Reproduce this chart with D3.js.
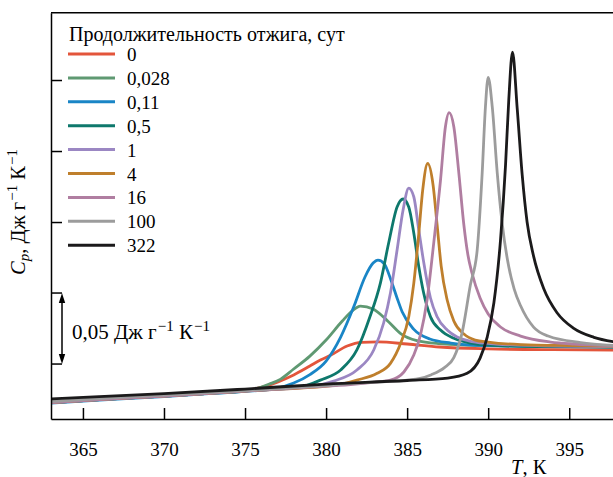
<!DOCTYPE html>
<html><head><meta charset="utf-8">
<script src="https://cdn.jsdelivr.net/npm/d3@7"></script>
<style>body{margin:0;background:#fff;}</style></head>
<body><svg id="c" width="613" height="477" font-family="Liberation Serif"></svg>
<script>
// ---- data (T in K, Cp offset in J g^-1 K^-1) ----
const durations = ["0", "0,028", "0,11", "0,5", "1", "4", "16", "100", "322"];
const legendTitle = "Продолжительность отжига, сут";
const xTicks = [365, 370, 375, 380, 385, 390, 395];
const yTicks = [0.1, 0.15, 0.2];
const scaleBar = [0, 0.05];

const T_0 = [363, 366, 370, 373, 375, 376, 377, 378, 379, 379.65, 380.3, 381.3, 382.2, 383.2, 385, 387, 390, 394, 397.7];
const Cp_0 = [-0.0271, -0.0250, -0.0225, -0.0204, -0.0188, -0.0165, -0.0127, -0.0077, -0.0014, 0.0028, 0.0063, 0.0127, 0.0153, 0.0156, 0.0141, 0.0120, 0.0107, 0.0101, 0.0099];

const T_028 = [363, 366, 370, 373, 375, 375.5, 376.5, 377.2, 378, 379, 380, 381, 381.6, 382.12, 382.9, 383.8, 384.6, 385.6, 387, 390, 397.7];
const Cp_028 = [-0.0271, -0.0250, -0.0225, -0.0204, -0.0190, -0.0180, -0.0141, -0.0106, -0.0035, 0.0056, 0.0169, 0.0303, 0.0373, 0.0408, 0.0387, 0.0303, 0.0215, 0.0165, 0.0144, 0.0130, 0.0123];

const T_011 = [363, 366, 370, 373, 375, 377, 378, 379, 380, 380.9, 381.7, 382.4, 382.9, 383.2, 383.6, 384.0, 384.4, 384.7, 385.4, 386.4, 387.7, 390, 397.7];
const Cp_011 = [-0.0276, -0.0254, -0.0229, -0.0207, -0.0193, -0.0169, -0.0134, -0.0074, 0.0021, 0.0190, 0.0401, 0.0613, 0.0711, 0.0732, 0.0704, 0.0592, 0.0458, 0.0366, 0.0246, 0.0176, 0.0148, 0.0130, 0.0120];

const T_05 = [363, 366, 370, 373, 376, 378.5, 379.65, 380.9, 381.9, 382.7, 383.35, 383.86, 384.38, 384.75, 385.1, 385.41, 385.72, 386.02, 386.44, 387.06, 387.88, 388.9, 390, 393, 397.7];
const Cp_05 = [-0.0271, -0.0250, -0.0225, -0.0204, -0.0183, -0.0160, -0.0113, -0.0042, 0.0099, 0.0331, 0.0570, 0.0852, 0.1106, 0.1162, 0.1106, 0.0923, 0.0685, 0.0500, 0.0333, 0.0239, 0.0181, 0.0148, 0.0134, 0.0123, 0.0120];

const T_1 = [363, 366, 370, 373, 376, 379, 380.47, 381.9, 382.94, 383.55, 383.97, 384.38, 384.75, 385.1, 385.41, 385.72, 386.02, 386.44, 386.85, 387.47, 388.09, 389, 390.5, 393, 397.7];
const Cp_1 = [-0.0271, -0.0250, -0.0225, -0.0204, -0.0183, -0.0160, -0.0120, -0.0042, 0.0099, 0.0289, 0.0500, 0.0803, 0.1085, 0.1239, 0.1178, 0.0944, 0.0718, 0.0465, 0.0333, 0.0239, 0.0190, 0.0158, 0.0141, 0.0130, 0.0123];

const T_4 = [363, 366, 370, 373, 376, 380.5, 381.9, 383.15, 383.97, 384.6, 385.1, 385.41, 385.72, 385.96, 386.27, 386.6, 386.85, 387.1, 387.47, 387.88, 388.5, 389.2, 390, 392, 395, 397.7];
const Cp_4 = [-0.0271, -0.0250, -0.0225, -0.0204, -0.0183, -0.0150, -0.0113, -0.0065, 0.0005, 0.0146, 0.0333, 0.0568, 0.0920, 0.1225, 0.1412, 0.1261, 0.0979, 0.0690, 0.0451, 0.0303, 0.0211, 0.0169, 0.0155, 0.0137, 0.0130, 0.0127];

const T_16 = [363, 366, 370, 373, 376, 379, 381.5, 383, 383.97, 384.8, 385.41, 385.82, 386.23, 386.64, 387.06, 387.36, 387.59, 387.88, 388.19, 388.5, 388.75, 389.0, 389.5, 390.0, 390.76, 392.0, 393.85, 395.3, 397.7];
const Cp_16 = [-0.0271, -0.0250, -0.0225, -0.0204, -0.0183, -0.0162, -0.0144, -0.0127, -0.0113, -0.0056, 0.0063, 0.0204, 0.0451, 0.0852, 0.1296, 0.1669, 0.1770, 0.1671, 0.1345, 0.0979, 0.0768, 0.0641, 0.0465, 0.0352, 0.0261, 0.0197, 0.0155, 0.0141, 0.0130];

const T_100 = [363, 366, 370, 375, 380, 383, 385, 385.8, 386.5, 387.3, 387.88, 388.4, 388.9, 389.32, 389.63, 389.83, 390.0, 390.25, 390.56, 390.86, 391.27, 391.6, 392.0, 392.8, 393.7, 395.7, 397.7];
const Cp_100 = [-0.0264, -0.0243, -0.0218, -0.0187, -0.0151, -0.0127, -0.0113, -0.0101, -0.0075, -0.0025, 0.0045, 0.0225, 0.0556, 0.0800, 0.1345, 0.1810, 0.2019, 0.1812, 0.1345, 0.0993, 0.0685, 0.0530, 0.0410, 0.0260, 0.0197, 0.0151, 0.0131];

const T_322 = [363, 366, 370, 375, 380, 385, 387.5, 388.7, 389.5, 389.94, 390.35, 390.76, 391.07, 391.27, 391.5, 391.79, 392.1, 392.4, 392.8, 393.43, 394.26, 395.28, 396.52, 397.7];
const Cp_322 = [-0.0246, -0.0229, -0.0208, -0.0176, -0.0141, -0.0116, -0.0099, -0.0065, 0.0042, 0.0190, 0.0430, 0.0873, 0.1401, 0.1859, 0.2197, 0.1800, 0.1330, 0.1000, 0.0760, 0.0530, 0.0359, 0.0251, 0.0188, 0.0157];

const seriesT = [T_0, T_028, T_011, T_05, T_1, T_4, T_16, T_100, T_322];
const seriesCp = [Cp_0, Cp_028, Cp_011, Cp_05, Cp_1, Cp_4, Cp_16, Cp_100, Cp_322];

// ---- styles ----
const colors = ["#e3553b", "#5f9972", "#1985c6", "#0e786c", "#9b87c3", "#bf7f2c", "#b07ea1", "#9c9c9c", "#1b1a1b"];
const FONT = "Liberation Serif";

const svg = d3.select("#c");
const L = 51, R = 613, TOP = 12.7, BOT = 419;
const x = d3.scaleLinear().domain([363.03, 397.7]).range([L, R]);
const y = d3.scaleLinear().domain([-0.0387, 0.2474]).range([BOT, TOP]);

svg.append("defs").append("clipPath").attr("id", "clip")
  .append("rect").attr("x", L).attr("y", TOP).attr("width", R - L).attr("height", BOT - TOP);

// curves
const line = d3.line().x(d => x(d[0])).y(d => y(d[1])).curve(d3.curveMonotoneX);
const g = svg.append("g").attr("clip-path", "url(#clip)");
seriesT.forEach((T, i) => {
  const pts = T.map((t, k) => [t, seriesCp[i][k]]);
  g.append("path").attr("d", line(pts)).attr("fill", "none")
    .attr("stroke", colors[i]).attr("stroke-width", 2.8)
    .attr("stroke-linejoin", "round").attr("stroke-linecap", "round");
});

// axes
const xAxis = d3.axisBottom(x).tickValues(xTicks).tickSize(-11).tickSizeOuter(0).tickPadding(24).tickFormat(d3.format("d"));
const gx = svg.append("g").attr("transform", `translate(0,${BOT})`).call(xAxis);
gx.attr("font-family", FONT).attr("font-size", 19);
gx.selectAll("path,line").attr("stroke", "#000").attr("stroke-width", 1.5);
gx.selectAll("text").attr("font-family", FONT).attr("font-size", 19).attr("fill", "#000");

const yAxis = d3.axisLeft(y).tickValues(yTicks).tickSize(-11).tickSizeOuter(0).tickFormat("");
const gy = svg.append("g").attr("transform", `translate(${L},0)`).call(yAxis);
gy.selectAll("path,line").attr("stroke", "#000").attr("stroke-width", 1.5);

// top frame line
svg.append("line").attr("x1", L).attr("x2", R).attr("y1", TOP).attr("y2", TOP)
  .attr("stroke", "#000").attr("stroke-width", 1.5);

// axis titles
const xt = svg.append("text").attr("x", 511).attr("y", 474).attr("font-size", 20.5).attr("font-family", FONT);
xt.append("tspan").attr("font-style", "italic").text("T");
xt.append("tspan").text(", К");

const yt = svg.append("text").attr("transform", "translate(25,212) rotate(-90)")
  .attr("text-anchor", "middle").attr("font-size", 20.5).attr("font-family", FONT);
yt.append("tspan").attr("font-style", "italic").text("C");
yt.append("tspan").attr("font-style", "italic").attr("font-size", 15).attr("dy", 4).text("p");
yt.append("tspan").attr("dy", -4).text(", Дж г");
yt.append("tspan").attr("font-size", 15).attr("dy", -8).attr("dx", 1).text("−1");
yt.append("tspan").attr("dy", 8).text(" К");
yt.append("tspan").attr("font-size", 15).attr("dy", -8).attr("dx", 1).text("−1");

// scale bar
const bx = 62, b0 = y(scaleBar[0]), b1 = y(scaleBar[1]);
const sb = svg.append("g").attr("stroke", "#000").attr("stroke-width", 1.5).attr("fill", "none");
sb.append("line").attr("x1", L).attr("x2", bx).attr("y1", b1).attr("y2", b1);
sb.append("line").attr("x1", L).attr("x2", bx).attr("y1", b0).attr("y2", b0);
sb.append("line").attr("x1", bx).attr("x2", bx).attr("y1", b1 + 4).attr("y2", b0 - 4);
svg.append("path").attr("d", `M${bx},${b1} L${bx - 3.2},${b1 + 10} L${bx + 3.2},${b1 + 10} Z`).attr("fill", "#000");
svg.append("path").attr("d", `M${bx},${b0} L${bx - 3.2},${b0 - 10} L${bx + 3.2},${b0 - 10} Z`).attr("fill", "#000");
const st = svg.append("text").attr("x", 72).attr("y", 339).attr("font-size", 21).attr("font-family", FONT);
st.append("tspan").text("0,05 Дж г");
st.append("tspan").attr("font-size", 15).attr("dy", -8).attr("dx", 1).text("−1");
st.append("tspan").attr("dy", 8).text(" К");
st.append("tspan").attr("font-size", 15).attr("dy", -8).attr("dx", 1).text("−1");

// legend
svg.append("text").attr("x", 69).attr("y", 41).attr("font-size", 20).attr("font-family", FONT).text(legendTitle);
const rowY0 = 54, rowStep = 23.9;
durations.forEach((d, i) => {
  const yy = rowY0 + i * rowStep;
  svg.append("line").attr("x1", 68).attr("x2", 115).attr("y1", yy).attr("y2", yy)
    .attr("stroke", colors[i]).attr("stroke-width", 3);
  svg.append("text").attr("x", 127).attr("y", yy + 7).attr("font-size", 19).attr("font-family", FONT).text(d);
});
</script></body></html>
